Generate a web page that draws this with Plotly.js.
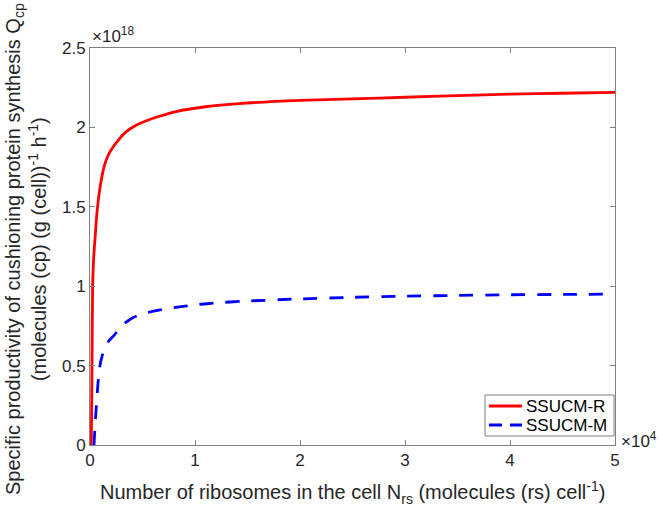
<!DOCTYPE html>
<html>
<head>
<meta charset="utf-8">
<script src="https://cdn.plot.ly/plotly-3.0.1.min.js"></script>
<style>
  html, body { margin: 0; padding: 0; background: #fff; }
  #chart { width: 663px; height: 508px; }
</style>
</head>
<body>
<div id="chart"></div>
<script>
// Ribosome number N_rs, in units of 10^4 molecules per cell
const nRsR = [0.012, 0.016, 0.019, 0.025, 0.035, 0.048, 0.062, 0.079, 0.10, 0.133, 0.17, 0.213, 0.27, 0.34, 0.43, 0.53, 0.66, 0.82, 1.1, 1.42, 2.0, 2.5, 3.0, 3.5, 4.0, 4.5, 5.0];
// Specific productivity Q_cp, SSUCM-R, in units of 10^18
const qcpR = [0.0, 0.25, 0.5, 1.0, 1.18, 1.3, 1.43, 1.54, 1.64, 1.75, 1.82, 1.87, 1.92, 1.97, 2.01, 2.04, 2.07, 2.10, 2.13, 2.15, 2.17, 2.18, 2.19, 2.20, 2.21, 2.215, 2.22];

const nRsM = [0.038, 0.048, 0.06, 0.075, 0.092, 0.115, 0.149, 0.185, 0.229, 0.3, 0.403, 0.52, 0.657, 0.8, 0.971, 1.2, 1.45, 2.0, 2.5, 3.0, 3.5, 4.0, 4.5, 5.0];
// Specific productivity Q_cp, SSUCM-M, in units of 10^18
const qcpM = [0.0, 0.12, 0.24, 0.38, 0.49, 0.56, 0.62, 0.66, 0.69, 0.75, 0.80, 0.83, 0.85, 0.865, 0.88, 0.895, 0.905, 0.92, 0.93, 0.937, 0.942, 0.946, 0.948, 0.95];

const seriesNames = ['SSUCM-R', 'SSUCM-M'];
const seriesColors = ['#ff0000', '#0000ff'];
const seriesDash = ['solid', '14px,12px'];

const xTicks = [0, 1, 2, 3, 4, 5];
const yTicks = [0, 0.5, 1, 1.5, 2, 2.5];
const yTickText = ['0', '0.5', '1', '1.5', '2', '2.5'];

const xTitle = 'Number of ribosomes in the cell N<sub>rs</sub> (molecules (rs) cell<sup>-1</sup>)';
const yTitle = 'Specific productivity of cushioning protein synthesis Q<sub>cp</sub><br>(molecules (cp) (g (cell))<sup>-1</sup> h<sup>-1</sup>)';

const font = 'Liberation Sans, Arial, Helvetica, sans-serif';
const ink = '#262626';
const boxGrey = '#7f7f7f';

// plot-area geometry in pixels
const W = 663, H = 508;
const M = {l: 90, r: 48, t: 48, b: 63};
const pw = W - M.l - M.r, ph = H - M.t - M.b;
const px = v => (v - M.l) / pw;          // page x -> paper x
const py = v => (H - M.b - v) / ph;      // page y -> paper y

const traces = [
  {
    x: nRsR, y: qcpR, name: seriesNames[0], type: 'scatter', mode: 'lines',
    line: {color: seriesColors[0], width: 2.8, dash: seriesDash[0], shape: 'spline', smoothing: 0.6},
    showlegend: false
  },
  {
    x: nRsM, y: qcpM, name: seriesNames[1], type: 'scatter', mode: 'lines',
    line: {color: seriesColors[1], width: 2.8, dash: seriesDash[1], shape: 'spline', smoothing: 0.6},
    showlegend: false
  }
];

const axisCommon = {
  showgrid: false, zeroline: false,
  showline: true, linecolor: boxGrey, linewidth: 1, mirror: 'ticks',
  ticks: 'inside', ticklen: 5, tickwidth: 1, tickcolor: boxGrey,
  tickfont: {family: font, size: 17, color: ink}
};

// legend box drawn in the lower right corner of the axes
const legBox = {x0: 485, x1: 614, y0: 395, y1: 436};
const legRows = [406, 425];
const shapes = [
  {type: 'rect', xref: 'paper', yref: 'paper',
   x0: px(legBox.x0), x1: px(legBox.x1), y0: py(legBox.y1), y1: py(legBox.y0),
   line: {color: boxGrey, width: 1}, fillcolor: '#ffffff', layer: 'above'}
];
const annotations = [
  {xref: 'paper', yref: 'paper', x: 0, y: 1, xanchor: 'left', yanchor: 'bottom',
   text: '\u00d710<sup>18</sup>', showarrow: false, font: {family: font, size: 17, color: ink}},
  {xref: 'paper', yref: 'paper', x: px(619), y: py(440), xanchor: 'left', yanchor: 'middle',
   text: '\u00d710<sup>4</sup>', showarrow: false, font: {family: font, size: 17, color: ink}},
  {xref: 'paper', yref: 'paper', x: 0.5, y: py(492), xanchor: 'center', yanchor: 'middle',
   text: xTitle, showarrow: false, font: {family: font, size: 20, color: ink}},
  {xref: 'paper', yref: 'paper', x: px(26), y: py(249), xanchor: 'center', yanchor: 'middle',
   text: yTitle, textangle: -90, showarrow: false, font: {family: font, size: 20, color: ink}}
];
seriesNames.forEach((name, i) => {
  shapes.push({type: 'line', xref: 'paper', yref: 'paper',
    x0: px(489), x1: px(522), y0: py(legRows[i]), y1: py(legRows[i]),
    line: {color: seriesColors[i], width: 2.8, dash: i === 1 ? '13px,8px' : 'solid'}, layer: 'above'});
  annotations.push({xref: 'paper', yref: 'paper', x: px(524), y: py(legRows[i]),
    xanchor: 'left', yanchor: 'middle', text: name, showarrow: false,
    font: {family: font, size: 17, color: '#000'}});
});

const layout = {
  width: W, height: H,
  margin: M,
  paper_bgcolor: '#ffffff', plot_bgcolor: '#ffffff',
  font: {family: font, color: ink},
  showlegend: false,
  xaxis: Object.assign({}, axisCommon, {range: [0, 5], tickvals: xTicks, ticktext: xTicks.map(String)}),
  yaxis: Object.assign({}, axisCommon, {range: [0, 2.5], tickvals: yTicks, ticktext: yTickText}),
  shapes: shapes,
  annotations: annotations
};

Plotly.newPlot('chart', traces, layout, {displayModeBar: false, staticPlot: true});
</script>
</body>
</html>
